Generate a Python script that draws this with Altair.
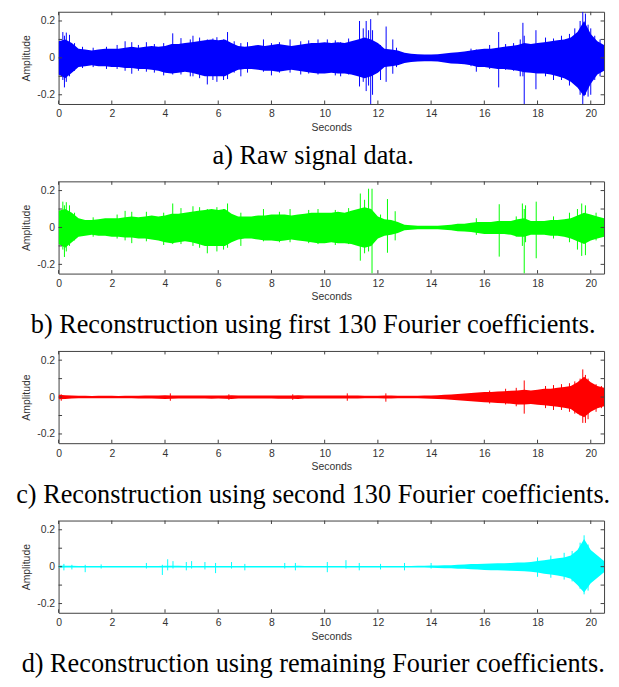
import altair as alt
import pandas as pd

# ---------------- data ----------------
# time grid of the envelope readings (seconds)
T = [round(i * 0.25, 2) for i in range(83)]
XTICKS = [0, 2, 4, 6, 8, 10, 12, 14, 16, 18, 20]
YTICKS = [-0.2, -0.1, 0, 0.1, 0.2]

# a) raw signal: upper / lower envelope of the dense core
A_UP = [0.09, 0.1, 0.08, 0.05, 0.045, 0.04, 0.045, 0.05, 0.05, 0.05,
        0.055, 0.06, 0.055, 0.06, 0.065, 0.06, 0.065, 0.075, 0.075, 0.08,
        0.085, 0.09, 0.095, 0.1, 0.095, 0.1, 0.08, 0.065, 0.06, 0.065,
        0.07, 0.065, 0.07, 0.075, 0.07, 0.065, 0.07, 0.075, 0.08, 0.08,
        0.085, 0.08, 0.085, 0.08, 0.09, 0.1, 0.11, 0.1, 0.08, 0.05,
        0.045, 0.04, 0.028, 0.022, 0.02, 0.018, 0.018, 0.02, 0.024, 0.028,
        0.03, 0.035, 0.04, 0.045, 0.05, 0.05, 0.055, 0.06, 0.065, 0.07,
        0.08, 0.075, 0.08, 0.085, 0.09, 0.095, 0.1, 0.11, 0.14, 0.2,
        0.13, 0.09, 0.07]
A_LO = [-0.09, -0.11, -0.08, -0.05, -0.045, -0.04, -0.045, -0.045, -0.05, -0.05,
        -0.055, -0.055, -0.06, -0.06, -0.065, -0.07, -0.08, -0.085, -0.08, -0.075,
        -0.08, -0.09, -0.1, -0.1, -0.1, -0.1, -0.08, -0.065, -0.06, -0.06,
        -0.065, -0.07, -0.07, -0.075, -0.07, -0.065, -0.07, -0.075, -0.08, -0.085,
        -0.085, -0.08, -0.085, -0.085, -0.09, -0.1, -0.11, -0.1, -0.08, -0.05,
        -0.045, -0.04, -0.028, -0.022, -0.02, -0.018, -0.018, -0.02, -0.025, -0.03,
        -0.032, -0.035, -0.04, -0.05, -0.05, -0.055, -0.06, -0.06, -0.065, -0.07,
        -0.078, -0.08, -0.085, -0.085, -0.09, -0.1, -0.11, -0.13, -0.16, -0.21,
        -0.14, -0.09, -0.07]
# a) individual spikes: time, top, bottom
A_SPK_T = [0.16, 0.22, 0.29, 0.41, 0.6, 0.9, 1.3, 1.8, 2.2, 2.5, 2.75, 3.0, 3.3, 3.6,
           3.95, 4.29, 4.6, 4.95, 5.05, 5.3, 5.59, 5.8, 5.95, 6.2, 6.35, 6.6, 6.85, 7.1,
           7.7, 8.0, 8.3, 8.7, 9.1, 9.4, 9.75, 10.1, 10.4, 10.6, 10.9, 11.31, 11.45,
           11.56, 11.65, 11.73, 11.8, 12.1, 12.31, 12.56, 12.7, 15.5, 15.7, 16.2, 16.54,
           16.8, 17.1, 17.35, 17.45, 17.5, 17.94, 18.3, 18.6, 18.9, 19.2, 19.4, 19.6,
           19.7, 19.8, 19.9, 20.0, 20.15, 20.35]
A_SPK_HI = [0.14, 0.12, 0.137, 0.125, 0.08, 0.06, 0.055, 0.06, 0.07, 0.09, 0.085, 0.07,
            0.085, 0.075, 0.08, 0.133, 0.107, 0.1, 0.12, 0.11, 0.1, 0.105, 0.112, 0.1,
            0.14, 0.09, 0.08, 0.085, 0.1, 0.08, 0.085, 0.1, 0.09, 0.095, 0.1, 0.1, 0.095,
            0.085, 0.105, 0.2, 0.16, 0.2, 0.15, 0.21, 0.15, 0.07, 0.17, 0.1, 0.055, 0.05,
            0.045, 0.07, 0.14, 0.075, 0.08, 0.1, 0.19, 0.12, 0.15, 0.11, 0.105, 0.12,
            0.13, 0.16, 0.2, 0.25, 0.24, 0.18, 0.16, 0.12, 0.1]
A_SPK_LO = [-0.12, -0.16, -0.13, -0.1, -0.07, -0.055, -0.05, -0.06, -0.06, -0.07, -0.086,
            -0.07, -0.075, -0.08, -0.095, -0.09, -0.09, -0.1, -0.1, -0.11, -0.144, -0.12,
            -0.13, -0.12, -0.115, -0.08, -0.1, -0.08, -0.075, -0.095, -0.08, -0.08, -0.09,
            -0.085, -0.09, -0.08, -0.095, -0.1, -0.09, -0.155, -0.13, -0.18, -0.15, -0.25,
            -0.2, -0.12, -0.13, -0.086, -0.05, -0.045, -0.075, -0.06, -0.16, -0.065,
            -0.07, -0.1, -0.1, -0.25, -0.17, -0.1, -0.12, -0.12, -0.15, -0.14, -0.2,
            -0.25, -0.2, -0.21, -0.2, -0.12, -0.1]

# b) first 130 Fourier coefficients
B_UP = [0.09, 0.1, 0.08, 0.05, 0.04, 0.04, 0.045, 0.05, 0.05, 0.05,
        0.055, 0.06, 0.055, 0.06, 0.065, 0.06, 0.065, 0.075, 0.075, 0.08,
        0.085, 0.09, 0.095, 0.1, 0.095, 0.1, 0.075, 0.06, 0.06, 0.06,
        0.065, 0.065, 0.07, 0.07, 0.07, 0.065, 0.07, 0.075, 0.08, 0.08,
        0.08, 0.08, 0.085, 0.08, 0.09, 0.1, 0.11, 0.1, 0.06, 0.045,
        0.04, 0.03, 0.015, 0.012, 0.01, 0.01, 0.01, 0.01, 0.012, 0.015,
        0.02, 0.02, 0.025, 0.03, 0.03, 0.03, 0.035, 0.035, 0.035, 0.045,
        0.05, 0.035, 0.035, 0.035, 0.04, 0.04, 0.045, 0.05, 0.065, 0.08,
        0.07, 0.06, 0.05]
B_LO = [-0.09, -0.11, -0.08, -0.05, -0.045, -0.04, -0.045, -0.045, -0.05, -0.05,
        -0.055, -0.055, -0.06, -0.06, -0.065, -0.07, -0.08, -0.085, -0.08, -0.075,
        -0.08, -0.09, -0.1, -0.1, -0.1, -0.1, -0.08, -0.065, -0.06, -0.06,
        -0.065, -0.07, -0.07, -0.075, -0.07, -0.065, -0.07, -0.075, -0.08, -0.085,
        -0.085, -0.08, -0.085, -0.085, -0.09, -0.1, -0.11, -0.1, -0.06, -0.045,
        -0.04, -0.03, -0.015, -0.012, -0.01, -0.01, -0.01, -0.01, -0.012, -0.015,
        -0.02, -0.022, -0.025, -0.03, -0.035, -0.035, -0.035, -0.035, -0.04, -0.05,
        -0.05, -0.04, -0.04, -0.04, -0.045, -0.045, -0.05, -0.06, -0.075, -0.09,
        -0.07, -0.06, -0.05]
B_SPK_T = [0.16, 0.22, 0.29, 0.41, 0.6, 1.3, 2.2, 2.5, 2.75, 3.3, 3.95, 4.29, 4.6, 5.05,
           5.3, 5.59, 5.95, 6.2, 6.35, 6.85, 7.7, 8.3, 8.7, 9.4, 9.75, 10.4, 10.9, 11.34,
           11.5, 11.65, 11.78, 12.1, 12.36, 12.65, 15.7, 16.56, 17.2, 17.43, 17.5, 17.55,
           17.95, 18.6, 19.2, 19.5, 19.66, 19.8, 20.2]
B_SPK_HI = [0.14, 0.12, 0.137, 0.12, 0.08, 0.055, 0.07, 0.09, 0.085, 0.085, 0.08, 0.13,
            0.105, 0.115, 0.11, 0.1, 0.11, 0.1, 0.13, 0.08, 0.1, 0.085, 0.1, 0.095, 0.1,
            0.095, 0.105, 0.184, 0.15, 0.21, 0.21, 0.07, 0.154, 0.088, 0.05, 0.126, 0.06,
            0.13, 0.1, 0.12, 0.14, 0.06, 0.08, 0.1, 0.13, 0.12, 0.08]
B_SPK_LO = [-0.12, -0.16, -0.13, -0.1, -0.07, -0.05, -0.06, -0.07, -0.085, -0.075, -0.095,
            -0.09, -0.09, -0.1, -0.11, -0.14, -0.13, -0.12, -0.11, -0.1, -0.075, -0.08,
            -0.08, -0.085, -0.09, -0.095, -0.09, -0.18, -0.14, -0.13, -0.25, -0.05, -0.137,
            -0.07, -0.04, -0.158, -0.05, -0.1, -0.25, -0.08, -0.167, -0.06, -0.08, -0.12,
            -0.154, -0.15, -0.07]

# c) second 130 Fourier coefficients
C_UP = [0.012, 0.01, 0.008, 0.007, 0.007, 0.006, 0.007, 0.007, 0.007, 0.006,
        0.007, 0.007, 0.007, 0.008, 0.008, 0.008, 0.01, 0.009, 0.008, 0.008,
        0.008, 0.008, 0.008, 0.008, 0.008, 0.009, 0.01, 0.008, 0.008, 0.008,
        0.008, 0.008, 0.008, 0.008, 0.009, 0.009, 0.01, 0.008, 0.008, 0.008,
        0.008, 0.008, 0.008, 0.008, 0.008, 0.008, 0.007, 0.007, 0.007, 0.008,
        0.008, 0.007, 0.007, 0.007, 0.007, 0.008, 0.009, 0.01, 0.012, 0.014,
        0.016, 0.019, 0.022, 0.025, 0.027, 0.028, 0.03, 0.032, 0.034, 0.036,
        0.04, 0.035, 0.04, 0.045, 0.045, 0.05, 0.055, 0.06, 0.08, 0.11,
        0.08, 0.06, 0.05]
C_LO = [-0.012, -0.01, -0.008, -0.007, -0.007, -0.006, -0.007, -0.007, -0.007, -0.007,
        -0.007, -0.007, -0.008, -0.008, -0.008, -0.009, -0.01, -0.009, -0.008, -0.008,
        -0.008, -0.008, -0.008, -0.009, -0.008, -0.009, -0.01, -0.008, -0.008, -0.008,
        -0.008, -0.008, -0.008, -0.009, -0.009, -0.009, -0.01, -0.008, -0.008, -0.008,
        -0.008, -0.008, -0.008, -0.008, -0.008, -0.008, -0.007, -0.007, -0.007, -0.008,
        -0.008, -0.007, -0.007, -0.007, -0.007, -0.008, -0.009, -0.01, -0.012, -0.015,
        -0.017, -0.02, -0.023, -0.026, -0.028, -0.03, -0.032, -0.034, -0.036, -0.04,
        -0.04, -0.038, -0.042, -0.045, -0.048, -0.052, -0.058, -0.065, -0.09, -0.11,
        -0.08, -0.06, -0.05]
C_SPK_T = [0.1, 4.2, 6.4, 8.8, 10.85, 12.3, 16.2, 16.8, 17.2, 17.5, 18.3, 18.6, 18.9,
           19.2, 19.4, 19.6, 19.7, 19.8, 19.9, 20.2, 20.4]
C_SPK_HI = [0.015, 0.02, 0.015, 0.015, 0.02, 0.02, 0.035, 0.045, 0.05, 0.09, 0.06, 0.065,
            0.07, 0.075, 0.085, 0.1, 0.15, 0.12, 0.1, 0.07, 0.06]
C_SPK_LO = [-0.02, -0.02, -0.015, -0.015, -0.02, -0.025, -0.035, -0.04, -0.05, -0.09, -0.06,
            -0.07, -0.07, -0.08, -0.09, -0.1, -0.14, -0.14, -0.12, -0.08, -0.06]

# d) remaining Fourier coefficients
D_UP = [0.006, 0.005, 0.005, 0.004, 0.004, 0.004, 0.004, 0.004, 0.004, 0.004,
        0.004, 0.004, 0.004, 0.004, 0.004, 0.004, 0.005, 0.005, 0.005, 0.004,
        0.004, 0.004, 0.004, 0.004, 0.004, 0.004, 0.004, 0.004, 0.004, 0.004,
        0.004, 0.004, 0.004, 0.004, 0.004, 0.004, 0.005, 0.004, 0.004, 0.004,
        0.004, 0.004, 0.004, 0.004, 0.004, 0.004, 0.004, 0.004, 0.004, 0.004,
        0.004, 0.004, 0.004, 0.004, 0.005, 0.005, 0.006, 0.006, 0.007, 0.008,
        0.01, 0.012, 0.014, 0.015, 0.016, 0.017, 0.018, 0.019, 0.02, 0.022,
        0.022, 0.025, 0.03, 0.035, 0.04, 0.045, 0.05, 0.06, 0.09, 0.15,
        0.09, 0.06, 0.03]
D_LO = [-0.006, -0.005, -0.005, -0.004, -0.004, -0.004, -0.004, -0.004, -0.004, -0.004,
        -0.004, -0.004, -0.004, -0.004, -0.004, -0.004, -0.005, -0.005, -0.005, -0.004,
        -0.004, -0.004, -0.004, -0.004, -0.004, -0.004, -0.004, -0.004, -0.004, -0.004,
        -0.004, -0.004, -0.004, -0.004, -0.004, -0.004, -0.005, -0.004, -0.004, -0.004,
        -0.004, -0.004, -0.004, -0.004, -0.004, -0.004, -0.004, -0.004, -0.004, -0.004,
        -0.004, -0.004, -0.004, -0.004, -0.005, -0.005, -0.006, -0.007, -0.008, -0.009,
        -0.011, -0.012, -0.014, -0.016, -0.018, -0.019, -0.02, -0.021, -0.022, -0.024,
        -0.025, -0.028, -0.032, -0.038, -0.042, -0.048, -0.055, -0.065, -0.1, -0.14,
        -0.09, -0.06, -0.03]
D_SPK_T = [0.2, 0.5, 1.0, 1.6, 3.3, 3.9, 4.1, 4.3, 4.8, 5.0, 5.5, 5.9, 6.5, 7.0,
           8.5, 8.9, 10.1, 10.8, 11.3, 12.1, 13.0, 14.0, 18.0, 18.5, 19.0, 19.3, 19.6,
           19.75, 19.9]
D_SPK_HI = [0.015, 0.01, 0.01, 0.012, 0.02, 0.01, 0.04, 0.03, 0.025, 0.03, 0.025, 0.02,
            0.025, 0.015, 0.02, 0.02, 0.025, 0.035, 0.02, 0.015, 0.02, 0.02, 0.05, 0.06,
            0.075, 0.085, 0.13, 0.17, 0.12]
D_SPK_LO = [-0.02, -0.015, -0.03, -0.01, -0.01, -0.045, -0.02, -0.01, -0.02, -0.01, -0.015,
            -0.035, -0.01, -0.02, -0.01, -0.02, -0.03, -0.01, -0.02, -0.015, -0.02, -0.01,
            -0.055, -0.06, -0.07, -0.08, -0.12, -0.15, -0.13]

PANELS = [
    ("a) Raw signal data.", "#0000FF", A_UP, A_LO, A_SPK_T, A_SPK_HI, A_SPK_LO),
    ("b) Reconstruction using first 130 Fourier coefficients.", "#00FF00",
     B_UP, B_LO, B_SPK_T, B_SPK_HI, B_SPK_LO),
    ("c) Reconstruction using second 130 Fourier coefficients.", "#FF0000",
     C_UP, C_LO, C_SPK_T, C_SPK_HI, C_SPK_LO),
    ("d) Reconstruction using remaining Fourier coefficients.", "#00FFFF",
     D_UP, D_LO, D_SPK_T, D_SPK_HI, D_SPK_LO),
]

# ---------------- layout ----------------
W, H = 550, 93
XMAX = 20.5
YLIM = 0.25
TICKLEN = 3.5  # px, inward ticks
FRAME = "#404040"
SANS = "Liberation Sans"

xscale = alt.Scale(domain=[0, XMAX], nice=False, zero=False)
yscale = alt.Scale(domain=[-YLIM, YLIM], nice=False, zero=False)

dy = TICKLEN * 2 * YLIM / H
dx = TICKLEN * XMAX / W
tick_rows = []
for v in XTICKS:
    tick_rows.append({"x": v, "x2": v, "y": -YLIM, "y2": -YLIM + dy})
    tick_rows.append({"x": v, "x2": v, "y": YLIM, "y2": YLIM - dy})
for v in YTICKS:
    tick_rows.append({"x": 0, "x2": dx, "y": v, "y2": v})
    tick_rows.append({"x": XMAX, "x2": XMAX - dx, "y": v, "y2": v})
ticks_df = pd.DataFrame(tick_rows)


def panel(caption, color, up, lo, st, sh, sl):
    env = pd.DataFrame({"t": T, "up": up, "lo": lo})
    spk = pd.DataFrame({"t": st, "hi": sh, "lo": sl})
    area = alt.Chart(env).mark_area(color=color, opacity=1, clip=True).encode(
        x=alt.X("t:Q", scale=xscale,
                axis=alt.Axis(values=XTICKS, title="Seconds", ticks=False, domain=False,
                              grid=False, labelPadding=5, titlePadding=3,
                              labelFlush=False)),
        y=alt.Y("lo:Q", scale=yscale,
                axis=alt.Axis(values=YTICKS, title="Amplitude", ticks=False, domain=False,
                              grid=False, labelPadding=4, titlePadding=5,
                              labelExpr="'' + datum.value", labelFlush=False)),
        y2="up:Q",
    )
    spikes = alt.Chart(spk).mark_rule(color=color, strokeWidth=1, clip=True).encode(
        x="t:Q", y="lo:Q", y2="hi:Q")
    ticks = alt.Chart(ticks_df).mark_rule(color=FRAME, strokeWidth=1).encode(
        x="x:Q", x2="x2:Q", y="y:Q", y2="y2:Q")
    return alt.layer(area, spikes, ticks).properties(
        width=W, height=H,
        title=alt.TitleParams(text=caption, orient="bottom", anchor="middle",
                              frame="bounds", font="Liberation Serif", fontSize=26.5,
                              fontWeight="normal", color="black", offset=10),
    )


chart = alt.vconcat(*[panel(*p) for p in PANELS], spacing=11).properties(
    padding={"left": 7, "top": 0, "right": 0, "bottom": 0}
).configure_view(stroke=FRAME, strokeWidth=1).configure_axis(
    labelFont=SANS, labelFontSize=10.5, labelColor="#333333",
    titleFont=SANS, titleFontSize=10.5, titleFontWeight="normal", titleColor="#333333",
)

chart.save("out.html", embed_options={"renderer": "svg", "actions": False})
